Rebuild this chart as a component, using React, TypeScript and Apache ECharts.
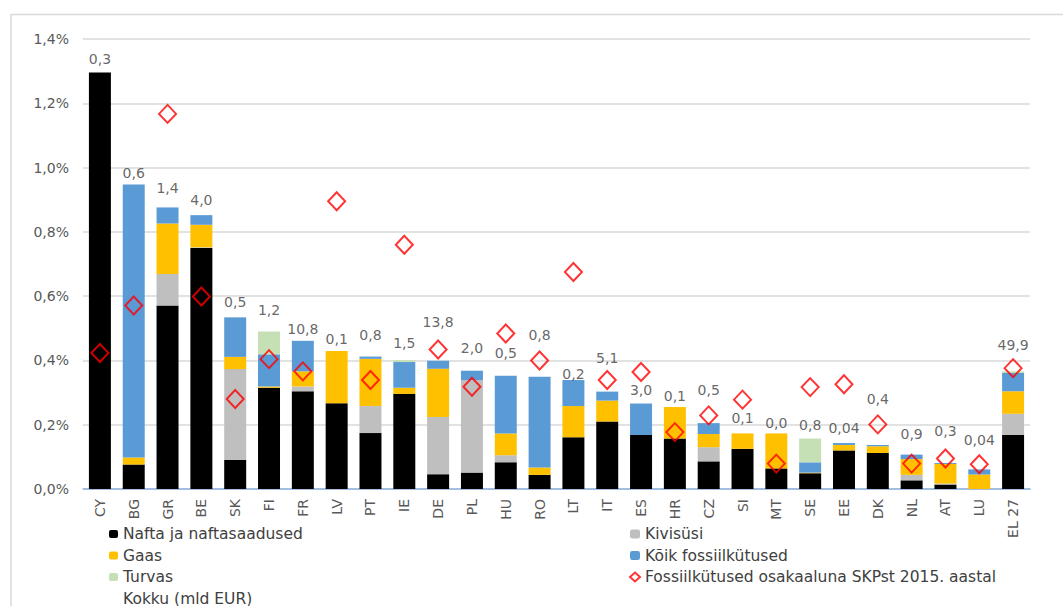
import React, { useEffect, useRef } from "react";
import * as echarts from "echarts";

const categories = ["CY","BG","GR","BE","SK","FI","FR","LV","PT","IE","DE","PL","HU","RO","LT","IT","ES","HR","CZ","SI","MT","SE","EE","DK","NL","AT","LU","EL 27"];
const nafta = [1.296,0.076,0.571,0.750,0.091,0.315,0.304,0.267,0.174,0.296,0.046,0.051,0.083,0.044,0.161,0.210,0.168,0.157,0.086,0.125,0.064,0.049,0.120,0.112,0.027,0.014,0,0.168];
const kivisysi = [0,0,0.098,0.002,0.282,0,0.015,0,0.084,0,0.178,0.288,0.022,0,0,0,0,0,0.044,0,0,0,0,0,0.017,0.003,0,0.066];
const gaas = [0,0.022,0.157,0.070,0.038,0.004,0.047,0.162,0.147,0.019,0.150,0,0.068,0.023,0.097,0.065,0,0.098,0.041,0.048,0.109,0.002,0.017,0.021,0.049,0.061,0.045,0.070];
const koikFossiil = [0,0.849,0.050,0.030,0.123,0.100,0.095,0,0.007,0.080,0.025,0.029,0.179,0.282,0.081,0.028,0.098,0,0.034,0,0,0.032,0.006,0.004,0.014,0.003,0.016,0.057];
const turvas = [0,0,0,0,0,0.071,0,0,0,0.006,0,0,0,0,0,0,0,0,0,0,0,0.074,0,0,0,0,0,0.005];
const osakaalSKP = [0.423,0.571,1.167,0.599,0.280,0.404,0.366,0.895,0.339,0.760,0.434,0.318,0.484,0.400,0.675,0.339,0.364,0.177,0.229,0.278,0.079,0.317,0.326,0.201,0.079,0.095,0.077,0.376];
const kokkuLabels = ["0,3","0,6","1,4","4,0","0,5","1,2","10,8","0,1","0,8","1,5","13,8","2,0","0,5","0,8","0,2","5,1","3,0","0,1","0,5","0,1","0,0","0,8","0,04","0,4","0,9","0,3","0,04","49,9"];
const kokkuLabelAt = [1.338,0.983,0.937,0.900,0.583,0.556,0.499,0.468,0.478,0.455,0.521,0.440,0.424,0.480,0.359,0.409,0.309,0.288,0.309,0.222,0.206,0.200,0.190,0.281,0.172,0.181,0.153,0.449];
const yTicks = { min: 0, max: 1.4, interval: 0.2 };

const FONT = "DejaVu Sans";

export default function App() {
  const ref = useRef<HTMLDivElement>(null);
  useEffect(() => {
    if (!ref.current) return;
    const chart = echarts.init(ref.current, null, { renderer: "svg" });
    const barSeries = (name: string, data: number[], color: string) => ({
      name,
      type: "bar",
      stack: "total",
      data,
      barWidth: "65%",
      itemStyle: { color },
    });
    const legendText = { fontFamily: FONT, fontSize: 15.5, color: "#404040", lineHeight: 16 };
    chart.setOption({
      animation: false,
      backgroundColor: "#ffffff",
      graphic: [
        {
          type: "rect",
          shape: { x: 11, y: 14.5, width: 1200, height: 800 },
          style: { fill: "none", stroke: "#D9D9D9", lineWidth: 1.5 },
          silent: true,
        },
      ],
      grid: { left: 83, right: 33, top: 39, bottom: 117 },
      legend: [
        {
          orient: "vertical",
          left: 109,
          top: 526,
          height: 120,
          padding: 0,
          itemWidth: 9,
          itemHeight: 8,
          itemGap: 5.5,
          textStyle: legendText,
          data: [
            "Nafta ja naftasaadused",
            "Gaas",
            "Turvas",
            { name: "Kokku (mld EUR)", itemStyle: { opacity: 0 } },
          ],
        },
        {
          orient: "vertical",
          left: 629,
          top: 526,
          height: 120,
          padding: 0,
          itemWidth: 10,
          itemHeight: 9,
          itemGap: 5.5,
          textStyle: legendText,
          data: [
            "Kivisüsi",
            "Kõik fossiilkütused",
            "Fossiilkütused osakaaluna SKPst 2015. aastal",
          ],
        },
      ],
      xAxis: {
        type: "category",
        data: categories,
        axisTick: { show: false },
        axisLine: { lineStyle: { color: "#8DB3E2", width: 1.5 } },
        axisLabel: {
          rotate: 90,
          margin: 10,
          interval: 0,
          fontFamily: FONT,
          fontSize: 14,
          color: "#595959",
        },
      },
      yAxis: {
        type: "value",
        min: yTicks.min,
        max: yTicks.max,
        interval: yTicks.interval,
        axisLine: { show: false },
        axisTick: { show: false },
        splitLine: { lineStyle: { color: "#D9D9D9", width: 1.5 } },
        axisLabel: {
          margin: 14,
          fontFamily: FONT,
          fontSize: 14,
          color: "#595959",
          formatter: (v: number) => v.toFixed(1).replace(".", ",") + "%",
        },
      },
      series: [
        barSeries("Nafta ja naftasaadused", nafta, "#000000"),
        barSeries("Kivisüsi", kivisysi, "#BFBFBF"),
        barSeries("Gaas", gaas, "#FFC000"),
        barSeries("Kõik fossiilkütused", koikFossiil, "#5B9BD5"),
        barSeries("Turvas", turvas, "#C5E0B4"),
        {
          name: "Fossiilkütused osakaaluna SKPst 2015. aastal",
          type: "scatter",
          data: osakaalSKP,
          symbol: "diamond",
          symbolSize: [17, 18],
          z: 5,
          itemStyle: { color: "rgba(255,255,255,0)", borderColor: "#FF0000", borderWidth: 2 },
        },
        {
          name: "Kokku (mld EUR)",
          type: "scatter",
          data: kokkuLabelAt,
          symbolSize: 0,
          z: 6,
          itemStyle: { color: "rgba(0,0,0,0)" },
          label: {
            show: true,
            position: "inside",
            fontFamily: FONT,
            fontSize: 14,
            color: "#404040",
            formatter: (p: any) => kokkuLabels[p.dataIndex],
          },
        },
      ],
    });
    return () => chart.dispose();
  }, []);
  return (
    <div
      ref={ref}
      style={{ position: "absolute", left: 0, top: 0, width: 1063, height: 606 }}
    />
  );
}
